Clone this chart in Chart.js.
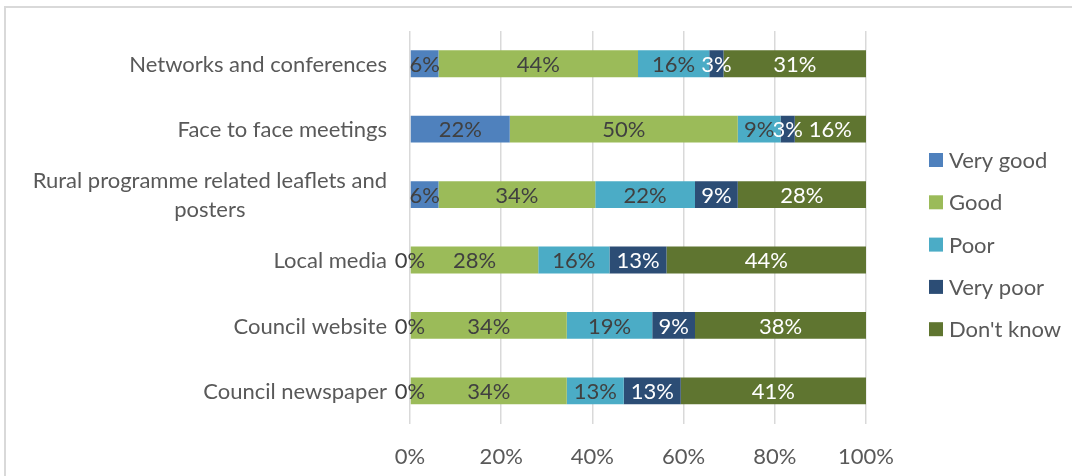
<!DOCTYPE html>
<html>
<head>
<meta charset="utf-8">
<script src="https://cdn.jsdelivr.net/npm/chart.js@4.4.1/dist/chart.umd.min.js"></script>
<style>
    html, body { margin: 0; padding: 0; background: #fff; }
    #wrap { position: relative; width: 1072px; height: 476px; overflow: hidden; }
    #frame { position: absolute; left: 4px; top: 6px; width: 1100px; height: 500px;
             border: 2px solid #d9d9d9; box-sizing: border-box; }
    canvas { position: absolute; left: 0; top: 0; }
</style>
</head>
<body>
<div id="wrap">
    <div id="frame"></div>
    <canvas id="channelChart" width="1072" height="490"></canvas>
</div>
<script>
// survey answers, share of respondents (%)
var channels = [
    'Networks and conferences',
    'Face to face meetings',
    ['Rural programme related leaflets and', 'posters'],
    'Local media',
    'Council website',
    'Council newspaper'
];
var veryGood = [6.25, 21.875, 6.25, 0, 0, 0];
var good     = [43.75, 50, 34.375, 28.125, 34.375, 34.375];
var poor     = [15.625, 9.375, 21.875, 15.625, 18.75, 12.5];
var veryPoor = [3.125, 3.125, 9.375, 12.5, 9.375, 12.5];
var dontKnow = [31.25, 15.625, 28.125, 43.75, 37.5, 40.625];
var xTicks   = [0, 20, 40, 60, 80, 100];

var seriesNames  = ['Very good', 'Good', 'Poor', 'Very poor', "Don't know"];
var seriesColors = ['#4f81bd', '#9bbb59', '#4bacc6', '#2c4d75', '#5f7530'];
var labelColors  = ['#404040', '#404040', '#404040', '#ffffff', '#ffffff'];

var FONT = 'Lato, "Open Sans", sans-serif';
var TEXT = '#595959';

// percentage printed in the middle of every segment
var valueLabels = {
    id: 'valueLabels',
    afterDatasetsDraw: function (chart) {
        var ctx = chart.ctx;
        ctx.save();
        ctx.font = '22px ' + FONT;
        ctx.textAlign = 'center';
        ctx.textBaseline = 'middle';
        chart.data.datasets.forEach(function (ds, i) {
            var meta = chart.getDatasetMeta(i);
            meta.data.forEach(function (bar, j) {
                ctx.fillStyle = labelColors[i];
                ctx.fillText(Math.round(ds.data[j]) + '%', (bar.x + bar.base) / 2, bar.y + 1);
            });
        });
        ctx.restore();
    }
};

// category names, wrapped lines centred on each other
var categoryLabels = {
    id: 'categoryLabels',
    afterDraw: function (chart) {
        var ctx = chart.ctx;
        var yScale = chart.scales.y;
        var right = chart.chartArea.left - 23;
        ctx.save();
        ctx.font = '22px ' + FONT;
        ctx.fillStyle = TEXT;
        ctx.textAlign = 'center';
        ctx.textBaseline = 'middle';
        channels.forEach(function (label, j) {
            var lines = Array.isArray(label) ? label : [label];
            var w = Math.max.apply(null, lines.map(function (l) { return ctx.measureText(l).width; }));
            var cy = yScale.getPixelForValue(j);
            var lh = 29;
            lines.forEach(function (l, k) {
                ctx.fillText(l, right - w / 2, cy + 1 + (k - (lines.length - 1) / 2) * lh);
            });
        });
        ctx.restore();
    }
};

var sideLegend = {
    id: 'sideLegend',
    afterDraw: function (chart) {
        var ctx = chart.ctx;
        ctx.save();
        ctx.font = '22px ' + FONT;
        ctx.textBaseline = 'middle';
        seriesNames.forEach(function (name, i) {
            var y = 160 + i * 42.3;
            ctx.fillStyle = seriesColors[i];
            ctx.fillRect(929, y - 7, 14, 14);
            ctx.fillStyle = TEXT;
            ctx.fillText(name, 949, y + 1);
        });
        ctx.restore();
    }
};

var series = [veryGood, good, poor, veryPoor, dontKnow];

new Chart(document.getElementById('channelChart'), {
    type: 'bar',
    data: {
        labels: channels,
        datasets: series.map(function (values, i) {
            return {
                label: seriesNames[i],
                data: values,
                backgroundColor: seriesColors[i],
                borderWidth: 0,
                categoryPercentage: 1,
                barPercentage: 0.41
            };
        })
    },
    options: {
        indexAxis: 'y',
        responsive: false,
        animation: false,
        layout: { padding: { left: 410, top: 31, right: 206, bottom: 0 } },
        plugins: {
            legend: { display: false },
            tooltip: { enabled: false }
        },
        scales: {
            x: {
                stacked: true,
                min: 0,
                max: 100,
                afterBuildTicks: function (axis) {
                    axis.ticks = xTicks.map(function (v) { return { value: v }; });
                },
                ticks: {
                    callback: function (v) { return v + '%'; },
                    color: TEXT,
                    font: { family: FONT, size: 22 },
                    padding: 20,
                    maxRotation: 0
                },
                grid: { color: '#d9d9d9', lineWidth: 1.5, drawTicks: false },
                border: { display: false }
            },
            y: {
                stacked: true,
                ticks: { display: false },
                grid: { display: false, drawTicks: false },
                border: { display: false }
            }
        }
    },
    plugins: [valueLabels, categoryLabels, sideLegend]
});
</script>
</body>
</html>
